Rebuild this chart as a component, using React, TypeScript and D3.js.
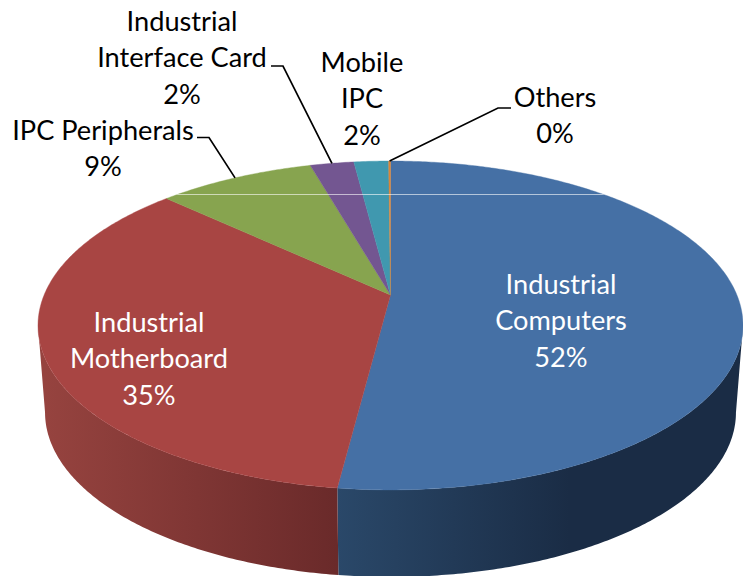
import React from "react";
import * as d3 from "d3";

// --- data
const categories = ["Industrial Computers", "Industrial Motherboard", "IPC Peripherals", "Industrial Interface Card", "Mobile IPC", "Others"];
const shares = [52, 35, 8.6, 2.4, 1.9, 0.1];
const percentLabels = ["52%", "35%", "9%", "2%", "2%", "0%"];
const labelLines = [
  ["Industrial", "Computers", "52%"],
  ["Industrial", "Motherboard", "35%"],
  ["IPC Peripherals", "9%"],
  ["Industrial", "Interface Card", "2%"],
  ["Mobile", "IPC", "2%"],
  ["Others", "0%"],
];
const topColors = ["#4570A5", "#A84543", "#87A44F", "#735691", "#4098AF", "#DC8537"];
const textColors = ["#fff", "#fff", "#000", "#000", "#000", "#000"];

// --- layout
const W = 743, H = 576;
const CX = 390.5, CY = 295;
const RADIUS = 346.4, K = 158.8, P = 0.1853; // perspective of the tilted disc
const DEPTH = 87, BOTTOM_SCALE = 0.98;
const labelX = [561, 149, 103, 182, 362, 555];
const labelY = [294, 332, 140, 31, 72, 107];
const LINE_H = 36.3;
const FONT = 27.2;
// elbow of each leader: [text side x, elbow x, y]
const leaders: Record<number, [number, number, number]> = {
  2: [197, 209, 137.5],
  3: [271, 283, 66],
  5: [511, 498, 108],
};

const project = (a: number): [number, number] => {
  const u = Math.sin(a), v = -Math.cos(a);
  const w = 1 - P * v;
  return [CX + (RADIUS * u) / w, CY + (K * v) / w];
};
const projectBottom = (a: number): [number, number] => {
  const [x, y] = project(a);
  return [CX + (x - CX) * BOTTOM_SCALE, y + DEPTH];
};
const line = d3.line().curve(d3.curveLinear);
const samples = (a0: number, a1: number) => {
  const n = Math.max(2, Math.ceil((a1 - a0) / 0.01));
  return d3.range(n + 1).map((i) => a0 + ((a1 - a0) * i) / n);
};

const arcs = d3.pie<number>().sort(null).startAngle(0).endAngle(2 * Math.PI)(shares);
const wallLimitR = Math.acos(-P);
const wallLimitL = 2 * Math.PI - wallLimitR;

const wallPath = (a0: number, a1: number) => {
  const s = samples(a0, a1);
  return line([...s.map(project), ...s.slice().reverse().map(projectBottom)]) + "Z";
};
const slicePath = (a0: number, a1: number) =>
  line([[CX, CY], ...samples(a0, a1).map(project)]) + "Z";
const discPath = line(samples(0, 2 * Math.PI).map(project)) + "Z";

export default function App() {
  const walls = arcs
    .map((d, i) => ({ i, a0: Math.max(d.startAngle, wallLimitR), a1: Math.min(d.endAngle, wallLimitL) }))
    .filter((d) => d.a1 > d.a0);
  return (
    <svg width={W} height={H} viewBox={`0 0 ${W} ${H}`} style={{ position: "absolute", left: 0, top: 0, display: "block", background: "#fff" }}>
      <defs>
        <linearGradient id="wall0" gradientUnits="userSpaceOnUse" x1={337} x2={570} y1={0} y2={0}>
          <stop offset="0" stopColor="#2A4869" />
          <stop offset="1" stopColor="#1A2C45" />
        </linearGradient>
        <linearGradient id="wall1" gradientUnits="userSpaceOnUse" x1={45} x2={337} y1={0} y2={0}>
          <stop offset="0" stopColor="#96433F" />
          <stop offset="1" stopColor="#6A2A2A" />
        </linearGradient>
        <clipPath id="disc"><path d={discPath} /></clipPath>
      </defs>
      {walls.map((d) => (
        <path key={d.i} d={wallPath(d.a0, d.a1)} fill={`url(#wall${d.i})`} />
      ))}
      {arcs.map((d, i) => (
        <path key={categories[i]} d={slicePath(d.startAngle, d.endAngle)} fill={topColors[i]} stroke={topColors[i]} strokeWidth={0.4} />
      ))}
      <line x1={0} x2={W} y1={194.5} y2={194.5} stroke="#fff" strokeOpacity={0.6} strokeWidth={1} clipPath="url(#disc)" />
      {arcs.map((d, i) => {
        const e = leaders[i];
        if (!e) return null;
        const tip = project((d.startAngle + d.endAngle) / 2);
        return (
          <path key={i} d={line([[e[0], e[2]], [e[1], e[2]], tip]) as string} fill="none" stroke="#000" strokeWidth={1.7} />
        );
      })}
      {labelLines.map((lines, i) => (
        <text key={i} x={labelX[i]} y={labelY[i]} textAnchor="middle" fontFamily="Lato, 'Open Sans', sans-serif" fontSize={FONT} fill={textColors[i]} aria-label={`${categories[i]} ${percentLabels[i]}`}>
          {lines.map((t, j) => (
            <tspan key={j} x={labelX[i]} dy={j === 0 ? 0 : LINE_H}>{t}</tspan>
          ))}
        </text>
      ))}
    </svg>
  );
}
